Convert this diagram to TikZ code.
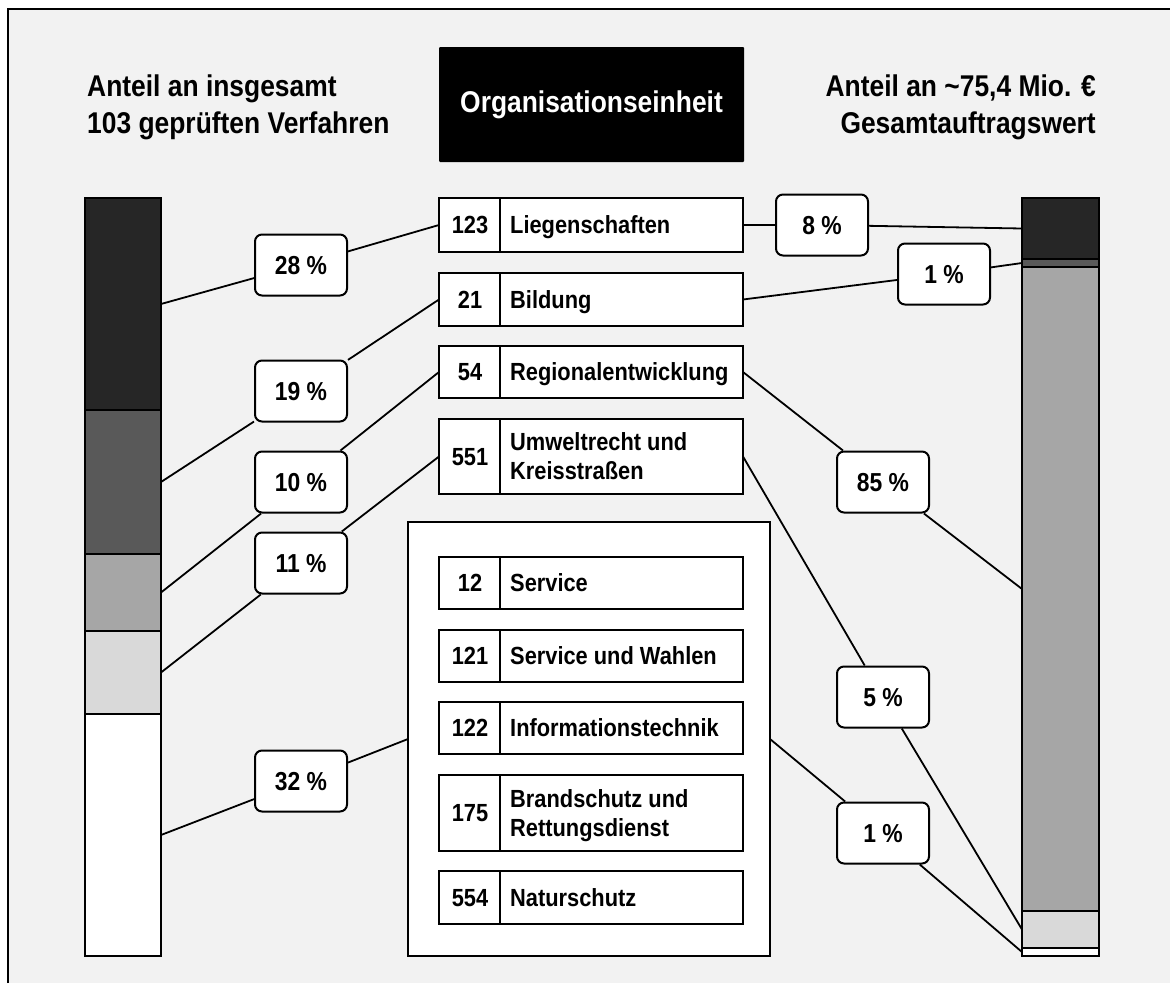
\documentclass[tikz,border=0pt]{standalone}
\usepackage{fontspec}
\setmainfont{Liberation Sans}[FakeStretch=0.88]
\usepackage{xcolor}
\usetikzlibrary{calc, positioning}
\definecolor{bgGray}{HTML}{F2F2F2}
\definecolor{segA}{HTML}{262626}
\definecolor{segB}{HTML}{595959}
\definecolor{segC}{HTML}{A6A6A6}
\definecolor{segD}{HTML}{D9D9D9}
\newcommand{\boxfont}{\fontsize{24.8}{29}\selectfont\bfseries}
\newcommand{\sharefont}{\fontsize{26}{30}\selectfont\bfseries}
\newcommand{\headfont}{\fontsize{30}{37}\selectfont\bfseries}
\tikzset{
    unitbox/.style={draw, fill=white, line width=2pt, minimum width=304pt, inner sep=0pt, outer sep=0pt},
    barseg/.style={draw, line width=2pt, inner sep=0pt, outer sep=0pt},
    share/.style={draw, fill=white, rounded corners=7pt, line width=2pt, minimum width=92pt, minimum height=61pt, text height=18.6pt, text depth=0pt, font=\sharefont},
    head/.style={inner sep=0pt, font=\headfont},
    link/.style={line width=1.8pt}
}
% #6: number of text lines in the unit name
\newcommand{\orgbox}[6]{
    \node[unitbox, minimum height=#3] (#1) at (591, #2) {};
    \draw[line width=2pt] ($(#1.north west) + (61, 0)$) -- ($(#1.south west) + (61, 0)$);
    \node[font=\boxfont, text height=17.8pt, text depth=0pt] (#1-n) at ($(#1.west) + (31, 0)$) {#4};
    \node[font=\boxfont, inner sep=0pt, anchor=north west, align=left] (#1-t) at ($(#1.west) + (71, {-9.2 - 14.5*(#6 - 1)})$) {#5};
}

\begin{document}
\begin{tikzpicture}[x=1pt, y=-1pt]
    \useasboundingbox (0, 0) rectangle (1170, 983);
    \fill[white] (0, 0) rectangle (1170, 983);
    \fill[bgGray] (8, 9) rectangle (1170, 983);
    \draw[line width=1.5pt] (8, 983) -- (8, 9) -- (1170, 9);

    % headings
    \node[head, anchor=west, align=left] (h-l) at (87, 107.5) {Anteil an insgesamt\\103 geprüften Verfahren};
    \node[fill=black, text=white, font=\headfont, minimum width=305pt, minimum height=115pt, rounded corners=1pt] (h-c) at (591.5, 104.5) {Organisationseinheit};
    \node[head, anchor=east, align=right] (h-r) at (1096, 107) {Anteil an \textasciitilde75,4 Mio. €\\Gesamtauftragswert};

    % left bar
    \node[barseg, fill=segA, minimum width=76pt, minimum height=212pt] (l1) at (123, 304) {};
    \node[barseg, fill=segB, minimum width=76pt, minimum height=144pt] (l2) at (123, 482) {};
    \node[barseg, fill=segC, minimum width=76pt, minimum height=77pt] (l3) at (123, 592.5) {};
    \node[barseg, fill=segD, minimum width=76pt, minimum height=83pt] (l4) at (123, 672.5) {};
    \node[barseg, fill=white, minimum width=76pt, minimum height=242pt] (l5) at (123, 835) {};

    % right bar
    \node[barseg, fill=segA, minimum width=77pt, minimum height=61pt] (r1) at (1060.5, 228.5) {};
    \node[barseg, fill=segB, minimum width=77pt, minimum height=8pt] (r2) at (1060.5, 263) {};
    \node[barseg, fill=segC, minimum width=77pt, minimum height=644pt] (r3) at (1060.5, 589) {};
    \node[barseg, fill=segD, minimum width=77pt, minimum height=37pt] (r4) at (1060.5, 929.5) {};
    \node[barseg, fill=white, minimum width=77pt, minimum height=8pt] (r5) at (1060.5, 952) {};

    % units
    \orgbox{lieg}{225}{54pt}{123}{Liegenschaften}{1}
    \orgbox{bild}{299.5}{53pt}{21}{Bildung}{1}
    \orgbox{regio}{372}{52pt}{54}{Regionalentwicklung}{1}
    \orgbox{umwelt}{456.5}{75pt}{551}{Umweltrecht und\\Kreisstraßen}{2}
    \node[draw, fill=white, line width=2pt, minimum width=362pt, minimum height=434pt, inner sep=0pt, outer sep=0pt] (grp) at (589, 739) {};
    \orgbox{serv}{583}{52pt}{12}{Service}{1}
    \orgbox{wahl}{656}{52pt}{121}{Service und Wahlen}{1}
    \orgbox{it}{728}{52pt}{122}{Informationstechnik}{1}
    \orgbox{brand}{813}{76pt}{175}{Brandschutz und\\Rettungsdienst}{2}
    \orgbox{natur}{897.5}{53pt}{554}{Naturschutz}{1}

    % shares
    \node[share] (p28) at (301, 265) {28 \%};
    \node[share] (p19) at (301, 391) {19 \%};
    \node[share] (p10) at (301, 482) {10 \%};
    \node[share] (p11) at (301, 563) {11 \%};
    \node[share] (p32) at (301, 781) {32 \%};
    \node[share] (q8) at (822, 225) {8 \%};
    \node[share] (q1a) at (944, 274) {1 \%};
    \node[share] (q85) at (883, 482) {85 \%};
    \node[share] (q5) at (883, 697) {5 \%};
    \node[share] (q1b) at (883, 833) {1 \%};

    \draw[link] (l1.east) -- (p28) -- (lieg.west);
    \draw[link] (l2.east) -- (p19) -- (bild.west);
    \draw[link] (l3.east) -- (p10) -- (regio.west);
    \draw[link] (l4.east) -- (p11) -- (umwelt.west);
    \draw[link] (l5.east) -- (p32) -- (grp.west);
    \draw[link] (lieg.east) -- (q8) -- (r1.west);
    \draw[link] (bild.east) -- (q1a) -- (r2.west);
    \draw[link] (regio.east) -- (q85) -- (r3.west);
    \draw[link] (umwelt.east) -- (q5) -- (r4.west);
    \draw[link] (grp.east) -- (q1b) -- (r5.west);
\end{tikzpicture}
\end{document}
